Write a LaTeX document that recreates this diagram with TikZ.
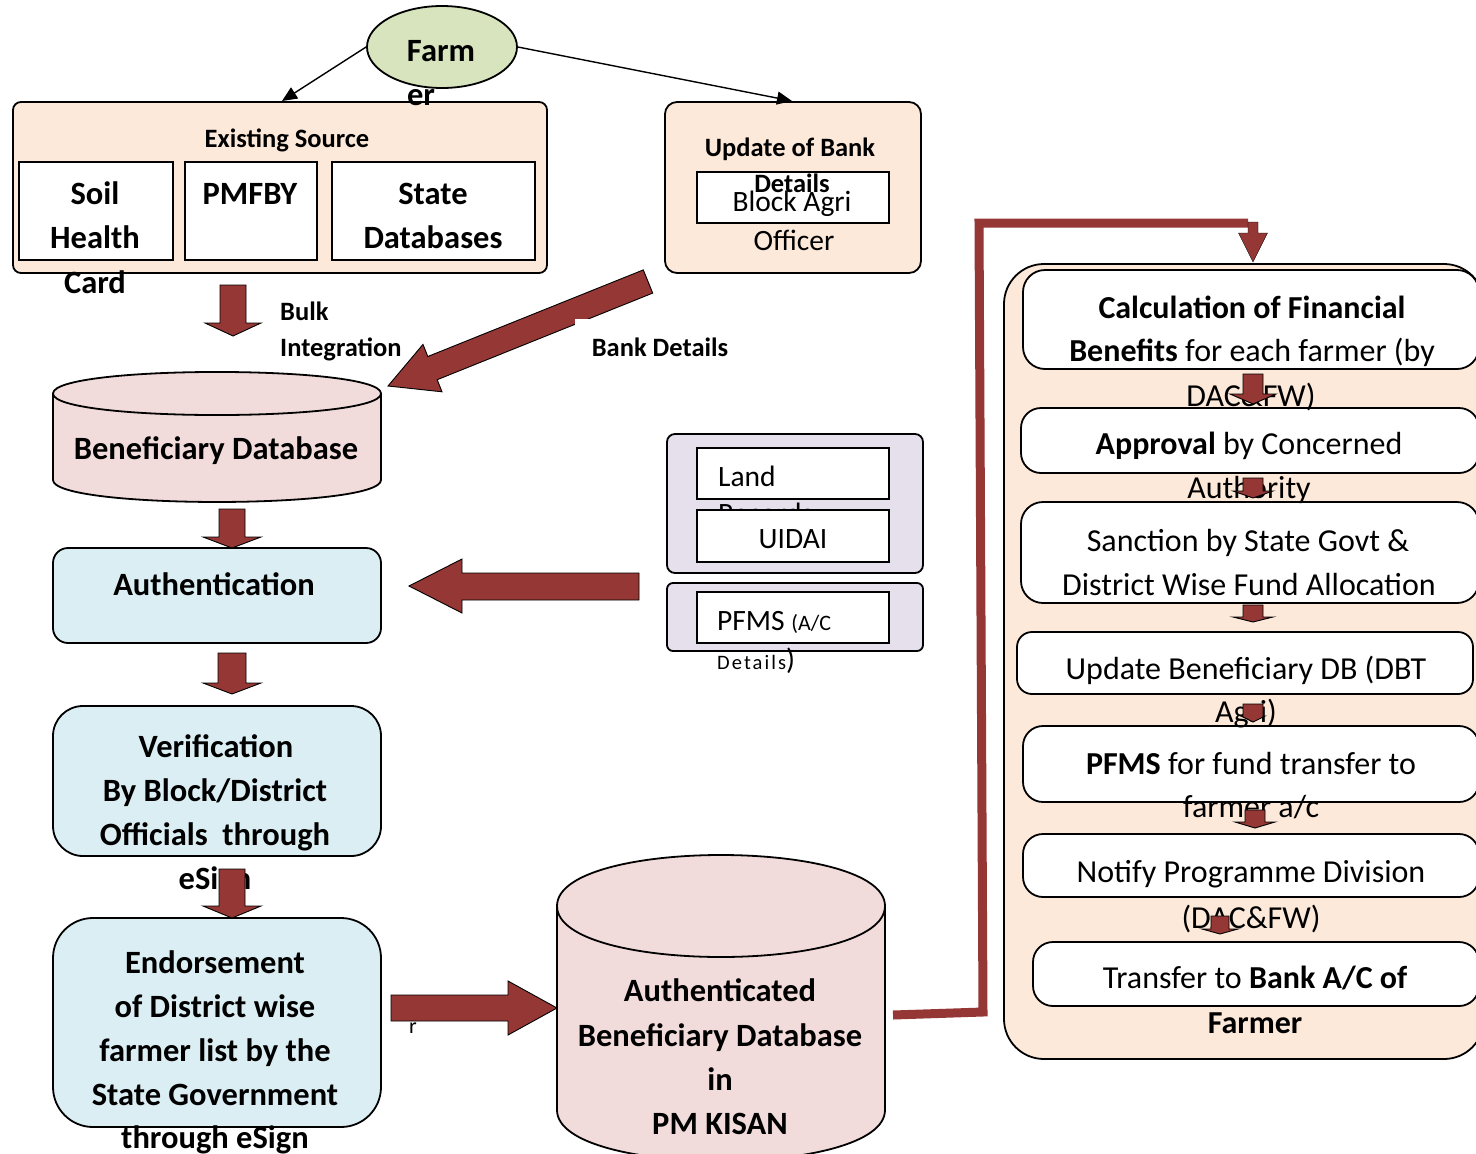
\documentclass[tikz,border=0pt]{standalone}
\usepackage{fontspec}
\setmainfont{Carlito}
\usetikzlibrary{arrows.meta,shapes.geometric,fit}
\definecolor{dred}{HTML}{953735}
\definecolor{peach}{HTML}{FDE9D9}
\definecolor{dbpink}{HTML}{F2DCDB}
\definecolor{lblue}{HTML}{DBEEF3}
\definecolor{lav}{HTML}{E5E0EC}
\definecolor{fgreen}{HTML}{D7E4BD}
% vertical block arrow: x, ytop, yhead, ytip, shaft half width, head half width
\newcommand\blkdown[7][blockarrow]{\filldraw[#1] (#2-#6,#3) -- (#2+#6,#3) -- (#2+#6,#4) -- (#2+#7,#4) -- (#2,#5) -- (#2-#7,#4) -- (#2-#6,#4) -- cycle;}
\begin{document}
\begin{tikzpicture}[x=1pt,y=-1pt,
  box/.style={draw=black, line width=1.8pt, inner sep=0pt},
  wbox/.style={box, fill=white},
  blockarrow/.style={fill=dred, draw=black, line width=0.9pt, line join=miter},
  cyl/.style={fill=dbpink, draw=black, line width=1.8pt},
  tb/.style={font=\fontsize{32.5}{38}\selectfont\bfseries, anchor=base, inner sep=0pt},
  tn/.style={font=\fontsize{32}{38}\selectfont, anchor=base, inner sep=0pt},
  tm/.style={font=\fontsize{29.5}{35}\selectfont, anchor=base, inner sep=0pt},
  ts/.style={font=\fontsize{26.5}{31}\selectfont\bfseries, anchor=base, inner sep=0pt},
  thin/.style={-{Triangle[length=15pt,width=13pt]}, line width=1.4pt, draw=black}]
\useasboundingbox (0,0) rectangle (1476,1154);
\fill[white] (0,0) rectangle (1476,1154);

% ---------- Farmer ----------
\node[ellipse, draw=black, line width=1.8pt, fill=fgreen, minimum width=150pt, minimum height=82pt, inner sep=0pt] (farmer) at (442,47) {};

% ---------- Existing source ----------
\node[box, fill=peach, rounded corners=8pt, fit={(13,102) (547,273)}] (exist) {};
\node[wbox, fit={(19,162) (173,260)}] (soil) {};
\node[wbox, fit={(185,162) (317,260)}] (pmfby) {};
\node[wbox, fit={(332,162) (535,260)}] (stated) {};

% ---------- Update of bank details ----------
\node[box, fill=peach, rounded corners=12pt, fit={(665,102) (921,273)}] (upd) {};
\node[wbox, fit={(697,172) (889,223)}] (bao) {};

% ---------- Beneficiary database cylinder ----------
\filldraw[cyl] (53,393.5) -- (53,480) .. controls (53,509.3) and (381,509.3) .. (381,480) -- (381,393.5) .. controls (381,364.8) and (53,364.8) .. (53,393.5) -- cycle;
\draw[black, line width=1.8pt] (53,393.5) .. controls (53,422.2) and (381,422.2) .. (381,393.5);
\node[inner sep=0pt, fit={(53,372) (381,502)}] (bdb) {};

% ---------- Left column boxes ----------
\node[box, fill=lblue, rounded corners=15pt, fit={(53,548) (381,643)}] (auth) {};
\node[box, fill=lblue, rounded corners=30pt, fit={(53,706) (381,856)}] (verif) {};
\node[box, fill=lblue, rounded corners=40pt, fit={(53,918) (381,1127)}] (endorse) {};

% ---------- Land records / UIDAI / PFMS ----------
\node[box, fill=lav, rounded corners=8pt, fit={(667,434) (923,573)}] (landgrp) {};
\node[wbox, fit={(697,448) (889,499)}] (land) {};
\node[tm, anchor=base west] (tland) at (718,486) {Land};
\node[tm, anchor=base west] (trec) at (718,523) {Records};
\node[wbox, fit={(697,510) (889,562)}] (uidai) {};
\node[tm] (tuidai) at (793,548) {UIDAI};
\node[box, fill=lav, rounded corners=6pt, fit={(667,583) (923,651)}] (pfmsgrp) {};
\node[wbox, fit={(697,592) (889,643)}] (pfmsbox) {};
\node[tm, anchor=base west] (tpfms) at (717,630) {PFMS {\fontsize{22}{26}\selectfont(A/C}};
\node[tm, anchor=base west] (tpdet) at (717,669) {{\fontsize{20.5}{24}\selectfont\addfontfeature{LetterSpace=10}Details})};

% ---------- Authenticated beneficiary database cylinder ----------
\filldraw[cyl] (557,906) -- (557,1110) .. controls (557,1178) and (885,1178) .. (885,1110) -- (885,906) .. controls (885,838) and (557,838) .. (557,906) -- cycle;
\draw[black, line width=1.8pt] (557,906) .. controls (557,974) and (885,974) .. (885,906);
\node[inner sep=0pt, fit={(557,855) (885,1154)}] (adb) {};

% ---------- Right column ----------
\node[box, fill=peach, rounded corners=40pt, fit={(1004,264) (1484,1059)}] (rcol) {};
\node[wbox, rounded corners=22pt, fit={(1023,270) (1479,369)}] (r1) {};
\node[wbox, rounded corners=20pt, fit={(1021,408) (1479,473)}] (r2) {};
\node[wbox, rounded corners=22pt, fit={(1021,502) (1479,603)}] (r3) {};
\node[wbox, rounded corners=15pt, fit={(1017,632) (1473,694)}] (r4) {};
\node[wbox, rounded corners=20pt, fit={(1023,726) (1479,802)}] (r5) {};
\node[wbox, rounded corners=20pt, fit={(1023,834) (1479,897)}] (r6) {};
\node[wbox, rounded corners=20pt, fit={(1033,942) (1479,1006)}] (r7) {};

% ---------- Texts ----------
\node[tb] (tfarm) at (441,61) {Farm};
\node[tb] (tfarm2) at (421,105) {er};
\node[ts] (texist) at (287,147) {Existing Source};
\node[tb] (tsoil1) at (95,204) {Soil};
\node[tb] (tsoil2) at (95,248) {Health};
\node[tb] (tsoil3) at (95,293) {Card};
\node[tb] (tpmfby) at (250,204) {PMFBY};
\node[tb] (tstate1) at (433,204) {State};
\node[tb] (tstate2) at (433,248) {Databases};
\node[ts] (tupd1) at (790,156) {Update of Bank};
\node[ts] (tupd2) at (792,192) {Details};
\node[tm] (tbao1) at (792,211) {Block Agri};
\node[tm] (tbao2) at (794,250) {Officer};
\node[ts, anchor=base west] (tbulk1) at (280,320) {Bulk};
\node[ts, anchor=base west] (tbulk2) at (280,356) {Integration};
\node[ts] (tbank) at (660,356) {Bank Details};
\node[tb] (tbdb) at (216,459) {Beneficiary Database};
\node[tb] (tauth) at (214,595) {Authentication};
\node[tb] (tv1) at (216,757) {Verification};
\node[tb] (tv2) at (215,801) {By Block/District};
\node[tb] (tv3) at (215,845) {Officials\ \ through};
\node[tb] (tv4) at (215,889) {eSign};
\node[tb] (te1) at (215,973) {Endorsement};
\node[tb] (te2) at (215,1017) {of District wise};
\node[tb] (te3) at (215,1061) {farmer list by the};
\node[tb] (te4) at (215,1105) {State Government};
\node[tb] (te5) at (215,1148) {through eSign};
\node[tb] (ta1) at (720,1001) {Authenticated};
\node[tb] (ta2) at (720,1046) {Beneficiary Database};
\node[tb] (ta3) at (720,1090) {in};
\node[tb] (ta4) at (720,1134) {PM KISAN};
\node[font=\fontsize{22}{26}\selectfont, anchor=base, inner sep=0pt] (tr) at (413,1033) {r};

\node[tn] (tr1a) at (1252,318) {\textbf{Calculation of Financial}};
\node[tn] (tr1b) at (1252,361) {\textbf{Benefits} for each farmer (by};
\node[tn] (tr1c) at (1251,406) {DAC\&FW)};
\node[tn] (tr2a) at (1249,454) {\textbf{Approval} by Concerned};
\node[tn] (tr2b) at (1249,498) {Authority};
\node[tn] (tr3a) at (1248,551) {Sanction by State Govt \&};
\node[tn] (tr3b) at (1249,595) {District Wise Fund Allocation};
\node[tn] (tr4a) at (1246,679) {Update Beneficiary DB (DBT};
\node[tn] (tr4b) at (1246,722) {Agri)};
\node[tn] (tr5a) at (1251,774) {\textbf{PFMS} for fund transfer to};
\node[tn] (tr5b) at (1251,817) {farmer a/c};
\node[tn] (tr6a) at (1251,882) {Notify Programme Division};
\node[tn] (tr6b) at (1251,928) {(DAC\&FW)};
\node[tn] (tr7a) at (1255,988) {Transfer to \textbf{Bank A/C of}};
\node[tn] (tr7b) at (1255,1033) {\textbf{Farmer}};

% ---------- Thin arrows from farmer ----------
\coordinate (esTop) at (282,101);
\coordinate (udTop) at (792,101);
\draw[thin] (farmer.west) -- (esTop);
\draw[thin] (farmer.east) -- (udTop);

% ---------- Block arrows, left column ----------
\blkdown{233}{285}{323}{336}{13}{28}
\blkdown{232}{509}{537}{548}{13}{29}
\blkdown{232}{653}{683}{694}{14}{29}
\blkdown{232}{869}{906}{918}{13}{29}

% Bank details diagonal arrow
\filldraw[blockarrow] (643.3,269.9) -- (427.8,356.5) -- (423,344.4) -- (388,386) -- (442,391.8) -- (437.2,379.7) -- (652.7,293.1) -- cycle;
\fill[white] (575,319) rectangle (596,329);

% arrow into Authentication
\filldraw[blockarrow] (639,573) -- (462,573) -- (462,559) -- (409,586) -- (462,613) -- (462,600) -- (639,600) -- cycle;
% arrow from Endorsement to authenticated DB
\filldraw[blockarrow] (391,995) -- (508,995) -- (508,981) -- (557,1008) -- (508,1035) -- (508,1021) -- (391,1021) -- cycle;

% ---------- Red connector to right column ----------
\coordinate (rs) at (893,1015);
\coordinate (rc1) at (983,1012);
\coordinate (rc2) at (979,223);
\coordinate (rc3) at (1248,223);
\draw[dred, line width=9pt, line join=miter] (rs) -- (rc1) -- (rc2) -- (rc3);
\blkdown[fill=dred]{1253}{222}{233}{262}{5}{14.5}

% ---------- Block arrows, right column ----------
\blkdown{1253}{374}{394}{404}{10}{23}
\blkdown{1253}{478}{491}{498}{10}{20}
\blkdown{1253}{605}{617}{622}{10}{20}
\blkdown{1253}{704}{716}{722}{10}{12}
\blkdown{1255}{810}{822}{828}{10}{20}
\blkdown{1220}{916}{929}{934}{9}{18}
\end{tikzpicture}
\end{document}
